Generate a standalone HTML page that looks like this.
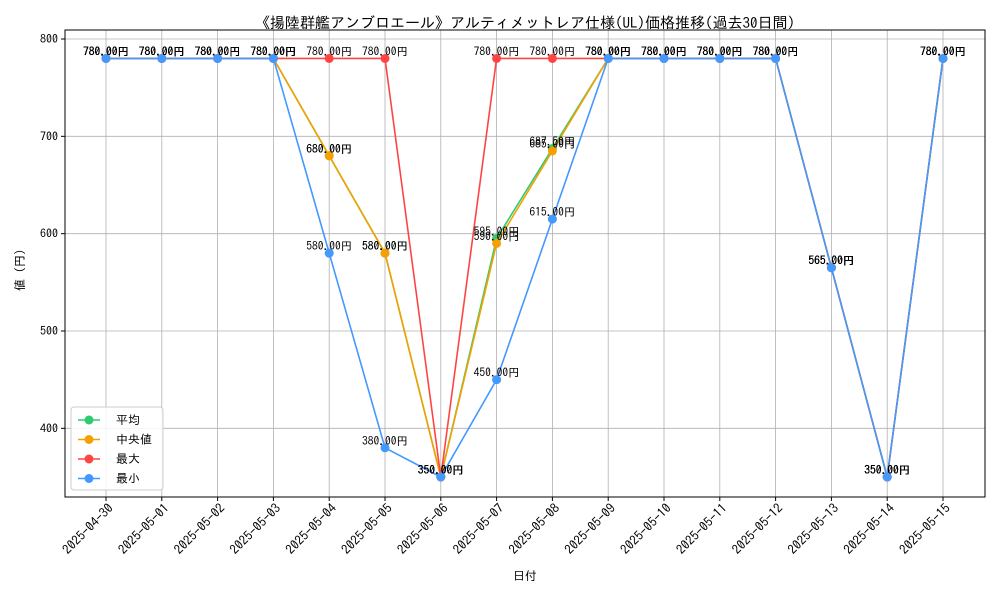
<!DOCTYPE html>
<html><head><meta charset="utf-8"><style>
body{margin:0;background:#fff}
svg{font-family:"IPAGothic","Noto Sans CJK JP",sans-serif}
</style></head><body>
<svg id="chart" width="1000" height="600" xmlns="http://www.w3.org/2000/svg">
<rect width="1000" height="600" fill="#fff"/>
<text x="525" y="28" font-size="15" text-anchor="middle">《揚陸群艦アンブロエール》アルティメットレア仕様(UL)価格推移(過去30日間)</text>
<g id="grid"></g>
<g id="plot"></g>
<rect x="65" y="30" width="920" height="467" fill="none" stroke="#000" stroke-width="1"/>
<text x="525" y="580" font-size="12" text-anchor="middle">日付</text>
<text x="24" y="270" font-size="12" text-anchor="middle" transform="rotate(-90 24 270)">値 (円)</text>
<g id="legend"></g>
</svg>
<script>
const dates=["2025-04-30","2025-05-01","2025-05-02","2025-05-03","2025-05-04","2025-05-05","2025-05-06","2025-05-07","2025-05-08","2025-05-09","2025-05-10","2025-05-11","2025-05-12","2025-05-13","2025-05-14","2025-05-15"];
const avgVals=[780,780,780,780,680,580,350,595,687.5,780,780,780,780,565,350,780];
const medianVals=[780,780,780,780,680,580,350,590,685,780,780,780,780,565,350,780];
const maxVals=[780,780,780,780,780,780,350,780,780,780,780,780,780,565,350,780];
const minVals=[780,780,780,780,580,380,350,450,615,780,780,780,780,565,350,780];
const yTicks=[400,500,600,700,800];
const seriesNames=["平均","中央値","最大","最小"];
const NS="http://www.w3.org/2000/svg";
const X=i=>106+i*(943-106)/(dates.length-1);
const Y=v=>39+(800-v)*(477-39)/450;
function mk(t,a,p){const e=document.createElementNS(NS,t);for(const k in a)e.setAttribute(k,a[k]);p.appendChild(e);return e;}
const grid=document.getElementById('grid'),plot=document.getElementById('plot'),svg=document.getElementById('chart');
dates.forEach((d,i)=>{
 const g=mk('line',{x1:X(i),x2:X(i),y1:30,y2:497,stroke:'#b0b0b0','stroke-width':0.8},grid);
 
 
 const tk=mk('line',{x1:X(i),x2:X(i),y1:497,y2:501,stroke:'#000'},svg);
 
 
 const ax=X(i)+8, ay=509;
 const t=mk('text',{x:ax,y:ay,'font-size':13,'text-anchor':'end',transform:`rotate(-45 ${ax} ${ay})`},svg);
 t.textContent=d;
 
 
});
yTicks.forEach(v=>{
 const g=mk('line',{x1:65,x2:985,y1:Y(v),y2:Y(v),stroke:'#b0b0b0','stroke-width':0.8},grid);
 
 
 const tk=mk('line',{x1:61,x2:65,y1:Y(v),y2:Y(v),stroke:'#000'},svg);
 
 
 const t=mk('text',{x:58,y:Y(v)+4,'font-size':12,'text-anchor':'end'},svg);
 t.textContent=v;
 
 
});
const series=[[avgVals,'#2ecc71','avg'],[medianVals,'#f5a000','median'],[maxVals,'#ff4444','max'],[minVals,'#4499ff','min']];
series.forEach(([vals,c,n])=>{
 const pl=mk('polyline',{points:vals.map((v,i)=>X(i)+','+Y(v)).join(' '),fill:'none',stroke:c,'stroke-width':1.6},plot);
 
 
 vals.forEach((v,i)=>{
  const p=mk('circle',{cx:X(i),cy:Y(v),r:4.5,fill:c},plot);
  
  
 });
});
series.forEach(([vals,c,n])=>{
 vals.forEach((v,i)=>{
  const t=mk('text',{x:X(i),y:Y(v)-3,'font-size':11.5,'text-anchor':'middle'},plot);
  t.textContent=v.toFixed(2)+'円';
  
  
 });
});
const lg=document.getElementById('legend');
const box=mk('rect',{x:71,y:407,width:92,height:83,fill:'#fff','fill-opacity':0.85,stroke:'#ccc',rx:3},lg);


series.forEach(([v,c,n],k)=>{
 const y=420+k*19.5;
 const l=mk('line',{x1:78,x2:100,y1:y,y2:y,stroke:c,'stroke-width':1.6},lg);
 
 
 const ci=mk('circle',{cx:89,cy:y,r:4.5,fill:c},lg);
 
 
 const t=mk('text',{x:116,y:y+4,'font-size':12},lg);
 t.textContent=seriesNames[k];
 
 
});
</script>
</body></html>
